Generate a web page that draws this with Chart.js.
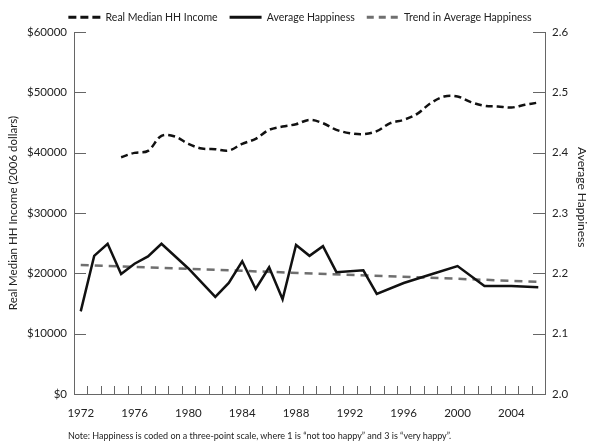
<!DOCTYPE html>
<html>
<head>
<meta charset="utf-8">
<script src="https://cdn.jsdelivr.net/npm/chart.js"></script>
<style>
	body { margin: 0; background: #fff; }
	#wrap { position: relative; width: 600px; height: 448px; }
	#rightTitle {
		position: absolute; left: 575px; top: 147px; height: 100px;
		writing-mode: vertical-rl; font: 12px Lato, sans-serif; color: #222;
		white-space: nowrap;
	}
	#note {
		position: absolute; left: 68px; top: 430px;
		font: 9px Lato, sans-serif; color: #222; white-space: nowrap;
	}
</style>
</head>
<body>
<div id="wrap">
	<canvas id="chart" width="600" height="448"></canvas>
	<div id="rightTitle">Average Happiness</div>
	<div id="note">Note: Happiness is coded on a three-point scale, where 1 is “not too happy” and 3 is “very happy”.</div>
</div>
<script>
// years shown on the bottom axis
const tickYears = [1972, 1976, 1980, 1984, 1988, 1992, 1996, 2000, 2004];

// real median household income, 2006 dollars
const incomeYears = [1975, 1976, 1977, 1978, 1979, 1980, 1981, 1982, 1983, 1984, 1985,
	1986, 1987, 1988, 1989, 1990, 1991, 1992, 1993, 1994, 1995, 1996,
	1997, 1998, 1999, 2000, 2001, 2002, 2003, 2004, 2005, 2006];
const income = [39250, 39970, 40300, 42790, 42670, 41460, 40680, 40580, 40350, 41460, 42290,
	43780, 44330, 44720, 45440, 44890, 43780, 43230, 43060, 43560, 44890, 45440,
	46430, 48200, 49300, 49300, 48370, 47760, 47650, 47480, 47930, 48310];

// average happiness (survey years only)
const happyYears = [1972, 1973, 1974, 1975, 1976, 1977, 1978, 1980, 1982, 1983, 1984, 1985,
	1986, 1987, 1988, 1989, 1990, 1991, 1993, 1994, 1996, 1998, 2000, 2002, 2004, 2006];
const happiness = [2.137, 2.229, 2.249, 2.199, 2.216, 2.228, 2.249, 2.208, 2.161, 2.184, 2.220, 2.174,
	2.210, 2.157, 2.247, 2.229, 2.245, 2.202, 2.205, 2.166, 2.184, 2.198, 2.212, 2.179, 2.179, 2.177];

// linear trend in average happiness
const trendYears = [1972, 2006];
const trend = [2.214, 2.186];

const axisColor = '#666';
const textColor = '#222';
const fontFamily = 'Lato, sans-serif';
// dash patterns for the legend samples (the point style ignores the dataset's)
const legendDash = [[8, 4], [], [7, 5]];

function pairs(xs, ys) {
	return xs.map((x, i) => ({ x: x, y: ys[i] }));
}

// tick marks point into the plot, like the original
const innerTicks = {
	id: 'innerTicks',
	afterDraw(chart) {
		const ctx = chart.ctx;
		const a = chart.chartArea;
		const sx = chart.scales.x, sy = chart.scales.y, sy1 = chart.scales.y1;
		ctx.save();
		ctx.strokeStyle = axisColor;
		ctx.lineWidth = 1;
		ctx.beginPath();
		for (let yr = sx.min + 1; yr < sx.max; yr++) {
			const px = Math.round(sx.getPixelForValue(yr)) + 0.5;
			ctx.moveTo(px, a.bottom);
			ctx.lineTo(px, a.bottom - 8);
		}
		sy.ticks.forEach(t => {
			if (t.value === sy.min) return;
			const py = Math.round(sy.getPixelForValue(t.value)) + 0.5;
			ctx.moveTo(a.left, py);
			ctx.lineTo(a.left + 12, py);
		});
		sy1.ticks.forEach(t => {
			if (t.value === sy1.min) return;
			const py = Math.round(sy1.getPixelForValue(t.value)) + 0.5;
			ctx.moveTo(a.right, py);
			ctx.lineTo(a.right - 12, py);
		});
		ctx.stroke();
		ctx.restore();
	}
};

new Chart(document.getElementById('chart'), {
	type: 'line',
	data: {
		datasets: [
			{
				label: 'Real Median HH Income',
				data: pairs(incomeYears, income),
				yAxisID: 'y',
				borderColor: '#111',
				borderWidth: 2.5,
				borderDash: [7, 4],
				tension: 0.35,
				pointRadius: 0
			},
			{
				label: 'Average Happiness',
				data: pairs(happyYears, happiness),
				yAxisID: 'y1',
				borderColor: '#111',
				borderWidth: 2.5,
				tension: 0,
				pointRadius: 0
			},
			{
				label: 'Trend in Average Happiness',
				data: pairs(trendYears, trend),
				yAxisID: 'y1',
				borderColor: '#6f6f6f',
				borderWidth: 2.5,
				borderDash: [8, 6],
				pointRadius: 0
			}
		]
	},
	options: {
		responsive: false,
		animation: false,
		events: [],
		layout: { padding: { top: 0, left: 0, right: 0, bottom: 0 } },
		plugins: {
			tooltip: { enabled: false },
			legend: {
				position: 'top',
				maxHeight: 32,
				labels: {
					usePointStyle: true,
					pointStyle: 'line',
					pointStyleWidth: 32,
					padding: 12,
					color: textColor,
					font: { family: fontFamily, size: 10.5 },
					generateLabels: chart => Chart.defaults.plugins.legend.labels.generateLabels(chart).map(item => {
						const ds = chart.data.datasets[item.datasetIndex];
						item.lineDash = legendDash[item.datasetIndex];
						item.lineWidth = 3;
						item.strokeStyle = ds.borderColor;
						return item;
					})
				}
			}
		},
		scales: {
			x: {
				type: 'linear',
				min: 1971.5,
				max: 2006.5,
				afterBuildTicks: s => { s.ticks = tickYears.map(v => ({ value: v })); },
				afterFit: s => { s.height = 54; },
				grid: { display: false, drawTicks: false },
				border: { display: true, color: axisColor, width: 1 },
				ticks: {
					padding: 12,
					maxRotation: 0,
					autoSkip: false,
					color: textColor,
					font: { family: fontFamily, size: 11.5 },
					callback: v => String(v)
				}
			},
			y: {
				position: 'left',
				min: 0,
				max: 60000,
				afterFit: s => { s.width = 74; },
				grid: { display: false, drawTicks: false },
				border: { display: true, color: axisColor, width: 1 },
				ticks: {
					stepSize: 10000,
					padding: 7,
					color: textColor,
					font: { family: fontFamily, size: 11.5 },
					callback: v => '$' + v
				},
				title: {
					display: true,
					text: 'Real Median HH Income (2006 dollars)',
					color: textColor,
					padding: { top: 6 },
					font: { family: fontFamily, size: 11.5 }
				}
			},
			y1: {
				position: 'right',
				min: 2.0,
				max: 2.6,
				afterFit: s => { s.width = 55; },
				grid: { display: false, drawTicks: false },
				border: { display: true, color: axisColor, width: 1 },
				ticks: {
					stepSize: 0.1,
					padding: 7,
					color: textColor,
					font: { family: fontFamily, size: 11.5 },
					callback: v => v.toFixed(1)
				}
			}
		}
	},
	plugins: [innerTicks]
});
</script>
</body>
</html>
